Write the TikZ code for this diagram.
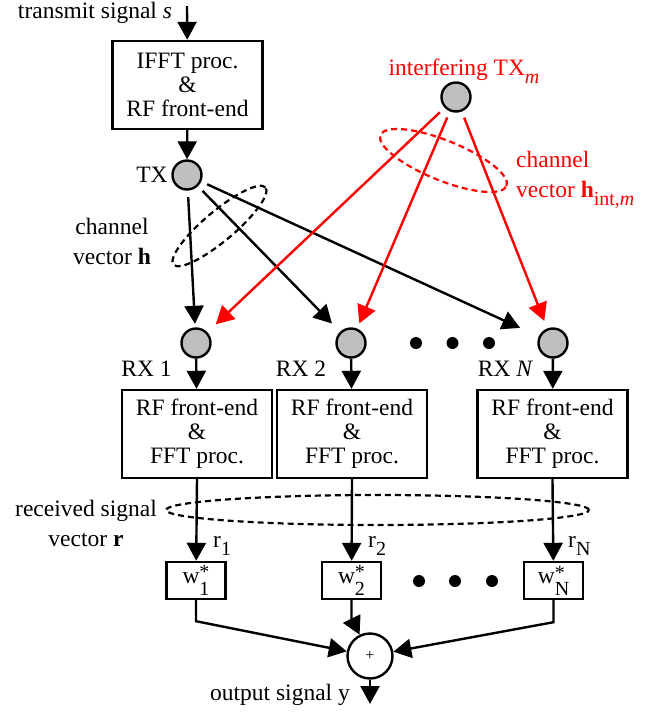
\documentclass[tikz,border=0pt]{standalone}
\usepackage{amsmath}
\usepackage{fontspec}
\setmainfont{Liberation Serif}
\usetikzlibrary{arrows.meta}

\newcommand{\lsub}[1]{\raisebox{-0.35em}{\fontsize{20}{20}\selectfont #1}}
\newcommand{\wts}[1]{w\raisebox{-0.5em}{\fontsize{20}{20}\selectfont\shortstack[l]{*\\#1}}}

\begin{document}
\begin{tikzpicture}[x=1pt,y=1pt,line width=2.4pt,
  font=\fontsize{23.5}{24}\selectfont,
  >={Triangle[length=18pt,width=19pt]}]
\tikzstyle{every node}+=[inner sep=0pt]
\tikzstyle{ant}=[circle,draw,fill=gray!50,minimum size=29]
\tikzstyle{blk}=[draw,minimum width=150,minimum height=88,align=center]
\tikzstyle{wbox}=[draw,minimum width=59,minimum height=37]
\tikzstyle{dot}=[circle,fill,minimum size=12]
\tikzstyle{chan}=[line width=2.2pt,dash pattern=on 6pt off 4pt]
\useasboundingbox (0,0) rectangle (668,-713);
% transmitter
\coordinate (in) at (187,-6);
\node [anchor=base] (inl) at (95,-18) {transmit signal \textit{s}};
\node [blk] (ifft) at (187.5,-85) {IFFT proc.\\\&\\RF front-end};
\node [ant] (tx) at (187,-175) {};
\node (txl) at (152,-175) {TX};
\draw [->] (in) -- (ifft);
\draw [->] (ifft) -- (tx);
% interferer
\node [ant] (itx) at (456,-97) {};
\node [anchor=base,red] (itxl) at (464,-75) {interfering TX\lsub{\textit{m}}};
% receive antennas
\node [ant] (rx1) at (196,-343) {};
\node [ant] (rx2) at (351,-343) {};
\node [ant] (rxn) at (553,-343) {};
\foreach \x [count=\i] in {416,452.5,489}
  \node [dot] (dr\i) at (\x,-343) {};
\node [anchor=base] (rx1l) at (146.5,-376) {RX 1};
\node [anchor=base] (rx2l) at (301,-376) {RX 2};
\node [anchor=base] (rxnl) at (505.5,-376) {RX \textit{N}};
% channels
\draw [->,shorten <=6.5pt,shorten >=3.5pt] (tx) -- (rx1);
\draw [->,shorten <=6.5pt,shorten >=11.5pt] (tx) -- (rx2);
\draw [->,shorten <=6.5pt,shorten >=20.5pt] (tx) -- (rxn);
\draw [->,red,shorten <=6.5pt,shorten >=11.5pt] (itx) -- (rx1);
\draw [->,red,shorten <=6.5pt,shorten >=5.6pt] (itx) -- (rx2);
\draw [->,red,shorten <=6.5pt,shorten >=8pt] (itx) -- (rxn);
\draw [chan,rotate around={40:(219.5,-226)}] (219.5,-226) ellipse (60 and 15);
\draw [chan,red,rotate around={-22:(443.5,-160.5)}] (443.5,-160.5) ellipse (68 and 20);
\node [align=center] (hl) at (112,-241) {channel\\[6pt]vector \textbf{h}};
\node [anchor=west,align=left,red] (hil) at (515,-180) {channel\\[6pt]vector \textbf{h}\lsub{int,\textit{m}}};
% front ends
\node [blk] (fe1) at (197,-434) {RF front-end\\\&\\FFT proc.};
\node [blk] (fe2) at (352,-434) {RF front-end\\\&\\FFT proc.};
\node [blk] (fen) at (552.5,-434) {RF front-end\\\&\\FFT proc.};
\draw [->] (rx1) -- (fe1);
\draw [->] (rx2) -- (fe2);
\draw [->] (rxn) -- (fen);
% combiner
\node [wbox] (w1) at (196,-580.5) {\wts{1}};
\node [wbox] (w2) at (351.5,-580.5) {\wts{2}};
\node [wbox] (wn) at (553.5,-580.5) {\wts{N}};
\foreach \x [count=\i] in {419,455,492}
  \node [dot] (dw\i) at (\x,-581) {};
\draw [->] (fe1.south) -- (w1);
\draw [->] (fe2.south) -- (w2);
\draw [->] (fen.south) -- (wn);
\node [anchor=base west] (r1) at (212,-547) {r\lsub{1}};
\node [anchor=base west] (r2) at (367,-547) {r\lsub{2}};
\node [anchor=base west] (rn) at (567,-547) {r\lsub{N}};
\draw [chan] (377.5,-510) ellipse (211.5 and 15);
\node [align=center] (rl) at (86,-523) {received signal\\[6pt]vector \textbf{r}};
\node [circle,draw,minimum size=45] (sum) at (370,-656) {\fontsize{16}{16}\selectfont +};
\draw [->] (w1.south) -- ++(0,-21) -- (sum);
\draw [->] (w2.south) -- ++(0,-18) -- (sum);
\draw [->] (wn.south) -- ++(0,-22) -- (sum);
\coordinate (out) at (370,-704);
\draw [->] (sum) -- (out);
\node [anchor=base] (outl) at (280,-700) {output signal y};
\end{tikzpicture}
\end{document}
